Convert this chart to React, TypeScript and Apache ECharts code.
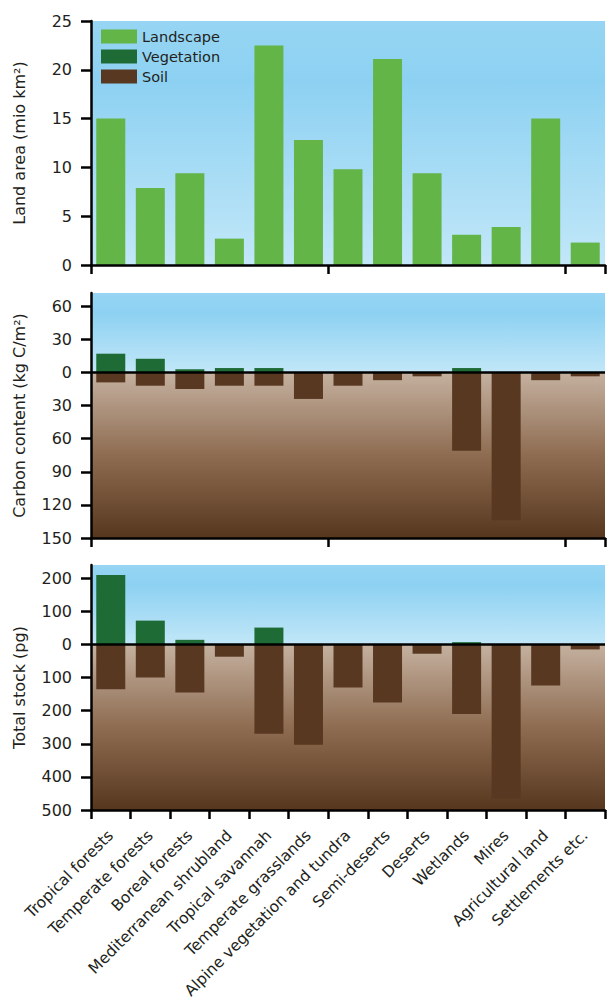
import React, { useEffect, useRef } from 'react';
import * as echarts from 'echarts';

const categories = [
  'Tropical forests',
  'Temperate forests',
  'Boreal forests',
  'Mediterranean shrubland',
  'Tropical savannah',
  'Temperate grasslands',
  'Alpine vegetation and tundra',
  'Semi-deserts',
  'Deserts',
  'Wetlands',
  'Mires',
  'Agricultural land',
  'Settlements etc.',
];

// Land area (mio km²)
const landArea = [15, 7.9, 9.4, 2.7, 22.5, 12.8, 9.8, 21.1, 9.4, 3.1, 3.9, 15, 2.3];
// Carbon content (kg C/m²)
const carbonVegetation = [17, 12.4, 2.9, 4, 4, 0, 0, 0, 0, 4, 0, 0, 0];
const carbonSoil = [9, 12, 15, 12, 12, 24, 12, 7, 3.5, 71, 134, 7, 3.5];
// Total stock (pg)
const stockVegetation = [210, 72, 14, 0, 51, 0, 0, 0, 0, 7, 0, 0, 0];
const stockSoil = [135, 100, 145, 37, 270, 303, 130, 175, 28, 210, 465, 124, 15];

const landTicks = [0, 5, 10, 15, 20, 25];
const carbonTicks = [-150, -120, -90, -60, -30, 0, 30, 60];
const stockTicks = [-500, -400, -300, -200, -100, 0, 100, 200];

const FONT = 'DejaVu Sans';
const TEXT = '#231f20';
const C_LAND = '#63b547';
const C_VEG = '#1f6b36';
const C_SOIL = '#583820';

const sky = () =>
  new echarts.graphic.LinearGradient(0, 0, 0, 1, [
    { offset: 0, color: '#96d5f3' },
    { offset: 0.25, color: '#8dd1f2' },
    { offset: 1, color: '#c2e7f8' },
  ]);
const soil = () =>
  new echarts.graphic.LinearGradient(0, 0, 0, 1, [
    { offset: 0, color: '#c5b1a0' },
    { offset: 0.5, color: '#8e6c51' },
    { offset: 1, color: '#56371e' },
  ]);

const axisLineStyle = { color: '#000', width: 2.5 };

export default function App() {
  const ref = useRef<HTMLDivElement>(null);

  useEffect(() => {
    if (!ref.current) return;
    const chart = echarts.init(ref.current, undefined, { renderer: 'svg' });

    const xAxis = [0, 1, 2].map((i) => ({
      type: 'category',
      gridIndex: i,
      data: categories,
      boundaryGap: true,
      z: 6,
      axisLine: { show: true, onZero: false, lineStyle: axisLineStyle },
      axisTick: { show: true, length: 9, lineStyle: axisLineStyle },
      splitLine: { show: false },
      axisLabel:
        i === 2
          ? {
              show: true,
              interval: 0,
              rotate: 45,
              margin: 23,
              fontSize: 15.5,
              fontFamily: FONT,
              color: TEXT,
            }
          : { show: false },
    }));

    const yBase = (name: string) => ({
      type: 'value',
      z: 6,
      name,
      nameLocation: 'middle',
      nameGap: 64,
      nameTextStyle: { fontSize: 16, fontFamily: FONT, color: TEXT },
      axisLine: { show: true, lineStyle: axisLineStyle },
      splitLine: { show: false },
    });

    const yAxis = [
      {
        ...yBase('Land area (mio km²)'),
        gridIndex: 0,
        min: 0,
        max: 25,
        interval: 5,
        axisTick: { show: true, length: 10, lineStyle: axisLineStyle, customValues: landTicks },
        axisLabel: { fontSize: 16, fontFamily: FONT, color: TEXT, margin: 19, customValues: landTicks },
      },
      {
        ...yBase('Carbon content (kg C/m²)'),
        gridIndex: 1,
        min: -150,
        max: 72,
        interval: 30,
        axisTick: { show: true, length: 10, lineStyle: axisLineStyle, customValues: carbonTicks },
        axisLabel: {
          fontSize: 16,
          fontFamily: FONT,
          color: TEXT,
          margin: 19,
          customValues: carbonTicks,
          formatter: (v: number) => String(Math.abs(v)),
        },
      },
      {
        ...yBase('Total stock (pg)'),
        gridIndex: 2,
        min: -500,
        max: 240,
        interval: 100,
        axisTick: { show: true, length: 10, lineStyle: axisLineStyle, customValues: stockTicks },
        axisLabel: {
          fontSize: 16,
          fontFamily: FONT,
          color: TEXT,
          margin: 19,
          customValues: stockTicks,
          formatter: (v: number) => String(Math.abs(v)),
        },
      },
    ];

    const zeroLine = {
      silent: true,
      symbol: 'none',
      label: { show: false },
      lineStyle: { color: '#000', width: 2.5, type: 'solid' },
      data: [{ yAxis: 0 }],
    };

    const bg = (max: number, min: number) => ({
      silent: true,
      data: [
        [{ yAxis: 0, itemStyle: { color: sky() } }, { yAxis: max }],
        [{ yAxis: min, itemStyle: { color: soil() } }, { yAxis: 0 }],
      ],
    });

    const option = {
      animation: false,
      backgroundColor: '#fff',
      textStyle: { fontFamily: FONT },
      grid: [
        { left: 91, right: 2, top: 21, height: 244 },
        { left: 91, right: 2, top: 293, height: 245 },
        { left: 91, right: 2, top: 565, height: 245 },
      ],
      legend: {
        data: ['Landscape', 'Vegetation', 'Soil'],
        orient: 'vertical',
        left: 101,
        top: 29,
        padding: 0,
        itemWidth: 36,
        itemHeight: 14,
        itemGap: 5,
        icon: 'rect',
        selectedMode: false,
        textStyle: { fontSize: 14.5, fontFamily: FONT, color: TEXT },
      },
      xAxis,
      yAxis,
      series: [
        {
          name: 'Landscape',
          type: 'bar',
          xAxisIndex: 0,
          yAxisIndex: 0,
          data: landArea,
          barWidth: 29,
          itemStyle: { color: C_LAND },
          markArea: {
            silent: true,
            data: [[{ yAxis: 0, itemStyle: { color: sky() } }, { yAxis: 25 }]],
          },
        },
        {
          name: 'Vegetation',
          type: 'bar',
          xAxisIndex: 1,
          yAxisIndex: 1,
          stack: 'carbon',
          data: carbonVegetation,
          barWidth: 29,
          itemStyle: { color: C_VEG },
          markArea: bg(72, -150),
          markLine: zeroLine,
        },
        {
          name: 'Soil',
          type: 'bar',
          xAxisIndex: 1,
          yAxisIndex: 1,
          stack: 'carbon',
          data: carbonSoil.map((v) => -v),
          barWidth: 29,
          itemStyle: { color: C_SOIL },
        },
        {
          name: 'Vegetation',
          type: 'bar',
          xAxisIndex: 2,
          yAxisIndex: 2,
          stack: 'stock',
          data: stockVegetation,
          barWidth: 29,
          itemStyle: { color: C_VEG },
          markArea: bg(240, -500),
          markLine: zeroLine,
        },
        {
          name: 'Soil',
          type: 'bar',
          xAxisIndex: 2,
          yAxisIndex: 2,
          stack: 'stock',
          data: stockSoil.map((v) => -v),
          barWidth: 29,
          itemStyle: { color: C_SOIL },
        },
      ],
    };

    chart.setOption(option as any);
    return () => chart.dispose();
  }, []);

  return (
    <div
      ref={ref}
      style={{ position: 'absolute', left: 0, top: 0, width: 607, height: 1003 }}
    />
  );
}
